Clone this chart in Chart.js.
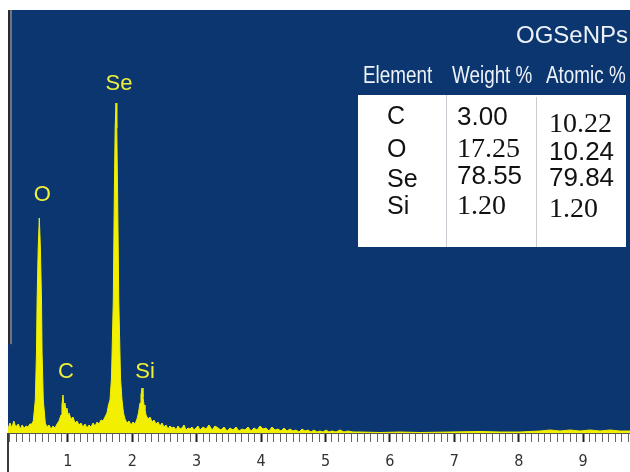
<!DOCTYPE html>
<html lang="en">
<head>
  <meta charset="UTF-8" />
  <title>OGSeNPs EDS spectrum</title>
  <script src="https://cdn.jsdelivr.net/npm/chart.js"></script>
  <style>
    html, body {
      margin: 0;
      padding: 0;
      background: #ffffff;
      overflow: hidden;
    }
    #wrap {
      width: 630px;
      height: 472px;
    }
    canvas {
      display: block;
    }
  </style>
</head>
<body>
  <div id="wrap"><canvas id="eds" width="630" height="472"></canvas></div>

  <script>
    // spectrum (energy in keV, counts in arbitrary units)
    const energyKeV = [
      0.07, 0.10, 0.13, 0.16, 0.19, 0.23, 0.26, 0.29, 0.32, 0.35, 0.38, 0.41, 0.44,
      0.463, 0.494, 0.512, 0.522, 0.539, 0.556, 0.573, 0.590, 0.599, 0.618, 0.649,
      0.675, 0.707, 0.738, 0.769, 0.800, 0.831, 0.862, 0.893, 0.908, 0.924, 0.939,
      0.955, 0.970, 0.986, 1.002, 1.017, 1.048, 1.079, 1.110, 1.141, 1.172, 1.203,
      1.234, 1.266, 1.297, 1.328, 1.359, 1.390, 1.421, 1.452, 1.483, 1.514, 1.545,
      1.576, 1.607, 1.630, 1.654, 1.677, 1.705, 1.720, 1.734, 1.747, 1.759, 1.773,
      1.790, 1.817, 1.840, 1.863, 1.887, 1.918, 1.949, 1.980, 2.011, 2.042, 2.073,
      2.096, 2.120, 2.135, 2.151, 2.166, 2.182, 2.197, 2.213, 2.244, 2.275, 2.306,
      2.337, 2.368, 2.399, 2.430, 2.461, 2.492, 2.523, 2.554, 2.585, 2.616, 2.648,
      2.679, 2.710, 2.741, 2.772, 2.803, 2.834, 2.865, 2.896, 2.927, 2.958, 2.989,
      3.020, 3.051, 3.098, 3.144, 3.191, 3.238, 3.284, 3.331, 3.377, 3.424, 3.470,
      3.517, 3.564, 3.610, 3.657, 3.703, 3.750, 3.797, 3.843, 3.890, 3.936, 3.983,
      4.030, 4.076, 4.123, 4.169, 4.216, 4.262, 4.309, 4.356, 4.402, 4.449, 4.495,
      4.542, 4.589, 4.635, 4.682, 4.728, 4.775, 4.821, 4.868, 4.915, 4.961, 5.008,
      5.054, 5.101, 5.163, 5.225, 5.287, 5.349, 5.427, 5.536, 5.846, 6.157, 6.467,
      6.933, 7.399, 7.710, 8.020, 8.331, 8.486, 8.641, 8.797, 8.952, 9.107, 9.262,
      9.418, 9.573, 9.728
    ];
    const counts = [
      8, 20, 10, 24, 12, 18, 8, 16, 10, 14, 12, 18, 18,
      24, 66, 160, 266, 370, 430, 370, 266, 160, 66, 20,
      12, 16, 8, 14, 10, 18, 24, 36, 56, 76, 52,
      60, 44, 50, 36, 40, 28, 32, 20, 24, 16, 20,
      12, 18, 10, 16, 12, 20, 14, 22, 18, 26, 24,
      32, 40, 56, 66, 110, 266, 466, 610, 660, 610, 466,
      266, 110, 66, 40, 28, 20, 24, 16, 22, 18, 28,
      40, 60, 76, 90, 72, 56, 48, 36, 28, 32, 22,
      26, 18, 22, 14, 20, 12, 16, 8, 14, 10, 12,
      6, 14, 8, 10, 16, 6, 10, 8, 12, 6, 10,
      14, 6, 12, 8, 16, 6, 14, 10, 6, 12, 4,
      10, 6, 12, 4, 8, 6, 12, 4, 10, 6, 14,
      8, 10, 4, 12, 6, 8, 4, 10, 4, 8, 4,
      6, 2, 8, 4, 6, 2, 6, 2, 4, 2, 6,
      2, 4, 2, 6, 2, 4, 2, 2, 1, 2, 1,
      2, 3, 2, 2, 4, 6, 4, 6, 4, 6, 4,
      6, 4, 4
    ];

    // peak annotations
    const peakNames = ['O', 'C', 'Se', 'Si'];
    const peakKeV = [0.556, 0.924, 1.747, 2.151];
    const peakCounts = [430, 76, 660, 90];

    // composition table
    const sampleName = 'OGSeNPs';
    const tableHeads = ['Element', 'Weight %', 'Atomic %'];
    const elements = ['C', 'O', 'Se', 'Si'];
    const weightPct = ['3.00', '17.25', '78.55', '1.20'];
    const atomicPct = ['10.22', '10.24', '79.84', '1.20'];

    // styling (kept apart from the data)
    const BLUE = '#0b366f';
    const YELLOW = '#f2ef00';
    const LABEL_YELLOW = '#eeee3c';
    const SANS = '"Liberation Sans", Arial, sans-serif';
    const SERIF = '"Liberation Serif", "Times New Roman", serif';
    const labelLift = [23, 23, 19, 16];
    const weightFonts = ['26px ' + SANS, '28px ' + SERIF, '26px ' + SANS, '28px ' + SERIF];
    const atomicFonts = ['28px ' + SERIF, '26px ' + SANS, '26px ' + SANS, '28px ' + SERIF];
    const rowY = { el: [117, 150, 180, 207], wt: [118, 150, 177, 207], at: [125, 153, 179, 210] };
    const headX = [363, 452, 546];

    const isMajor = v => Math.abs(v - Math.round(v)) < 1e-6;

    // Arial Narrow look-alike: squeeze normal sans horizontally
    function narrowText(ctx, text, x, y, squeeze) {
      ctx.save();
      ctx.translate(x, y);
      ctx.scale(squeeze, 1);
      ctx.fillText(text, 0, 0);
      ctx.restore();
    }

    const edsDecor = {
      id: 'edsDecor',
      beforeDraw(chart) {
        const { ctx, chartArea: a } = chart;
        ctx.save();
        ctx.fillStyle = BLUE;
        ctx.fillRect(a.left, a.top, a.right - a.left, a.bottom - a.top);
        ctx.restore();
      },
      afterDraw(chart) {
        const { ctx, chartArea: a, scales } = chart;
        ctx.save();

        // dark left edge of the instrument frame
        const stripEnd = a.top + (a.bottom - a.top) * 0.79;
        ctx.fillStyle = '#2a2c33';
        ctx.fillRect(a.left, a.top, 2, stripEnd - a.top);
        ctx.fillStyle = '#6f747d';
        ctx.fillRect(a.left + 2, a.top, 2, stripEnd - a.top);
        ctx.fillStyle = '#3a3a3a';
        ctx.fillRect(a.left - 1, a.bottom, 2, chart.height - a.bottom);

        // peak labels
        ctx.fillStyle = LABEL_YELLOW;
        ctx.font = '22px ' + SANS;
        ctx.textAlign = 'center';
        ctx.textBaseline = 'middle';
        peakNames.forEach((n, i) => {
          const x = scales.x.getPixelForValue(peakKeV[i]) + 3;
          const y = scales.y.getPixelForValue(peakCounts[i]) - labelLift[i];
          ctx.fillText(n, x, y);
        });

        // sample name
        ctx.fillStyle = '#eef2f8';
        ctx.font = '24px ' + SANS;
        ctx.textAlign = 'right';
        ctx.fillText(sampleName, 628, 36);

        // table headers
        ctx.textAlign = 'left';
        ctx.font = '23px ' + SANS;
        tableHeads.forEach((h, i) => narrowText(ctx, h, headX[i], 77, 0.82));

        // table box
        ctx.fillStyle = '#ffffff';
        ctx.fillRect(358, 95, 268, 152);
        ctx.strokeStyle = '#c9ccd2';
        ctx.lineWidth = 1;
        ctx.beginPath();
        ctx.moveTo(446.5, 95); ctx.lineTo(446.5, 247);
        ctx.moveTo(536.5, 97); ctx.lineTo(536.5, 247);
        ctx.stroke();

        ctx.fillStyle = '#111111';
        elements.forEach((e, i) => {
          ctx.font = '25px ' + SANS;
          ctx.fillText(e, 387, rowY.el[i]);
          ctx.font = weightFonts[i];
          ctx.fillText(weightPct[i], 457, rowY.wt[i]);
          ctx.font = atomicFonts[i];
          ctx.fillText(atomicPct[i], 549, rowY.at[i]);
        });

        ctx.restore();
      }
    };

    new Chart(document.getElementById('eds'), {
      type: 'line',
      data: {
        datasets: [{
          data: energyKeV.map((e, i) => ({ x: e, y: counts[i] })),
          borderColor: YELLOW,
          backgroundColor: YELLOW,
          borderWidth: 1,
          fill: 'origin',
          pointRadius: 0,
          tension: 0
        }]
      },
      options: {
        responsive: false,
        animation: false,
        devicePixelRatio: 1,
        layout: { padding: { left: 8, top: 10, right: 0, bottom: 0 } },
        plugins: {
          legend: { display: false },
          tooltip: { enabled: false }
        },
        scales: {
          x: {
            type: 'linear',
            min: 0.07,
            max: 9.728,
            afterFit(scale) {
              scale.height = 39;
              scale.paddingLeft = 0;
              scale.paddingRight = 0;
            },
            border: { display: true, color: '#555555', width: 1 },
            grid: {
              drawOnChartArea: false,
              tickLength: 9,
              tickColor: ctx => isMajor(ctx.tick.value) ? '#222222' : '#666666',
              tickWidth: ctx => isMajor(ctx.tick.value) ? 2 : 1
            },
            ticks: {
              stepSize: 0.1,
              autoSkip: false,
              includeBounds: false,
              maxRotation: 0,
              padding: 10,
              color: '#333333',
              font: { family: '"DejaVu Sans Condensed", "Liberation Sans", sans-serif', size: 16 },
              callback: v => isMajor(v) ? String(Math.round(v)) : ''
            }
          },
          y: { display: false, min: 0, max: 846 }
        }
      },
      plugins: [edsDecor]
    });
  </script>
</body>
</html>
